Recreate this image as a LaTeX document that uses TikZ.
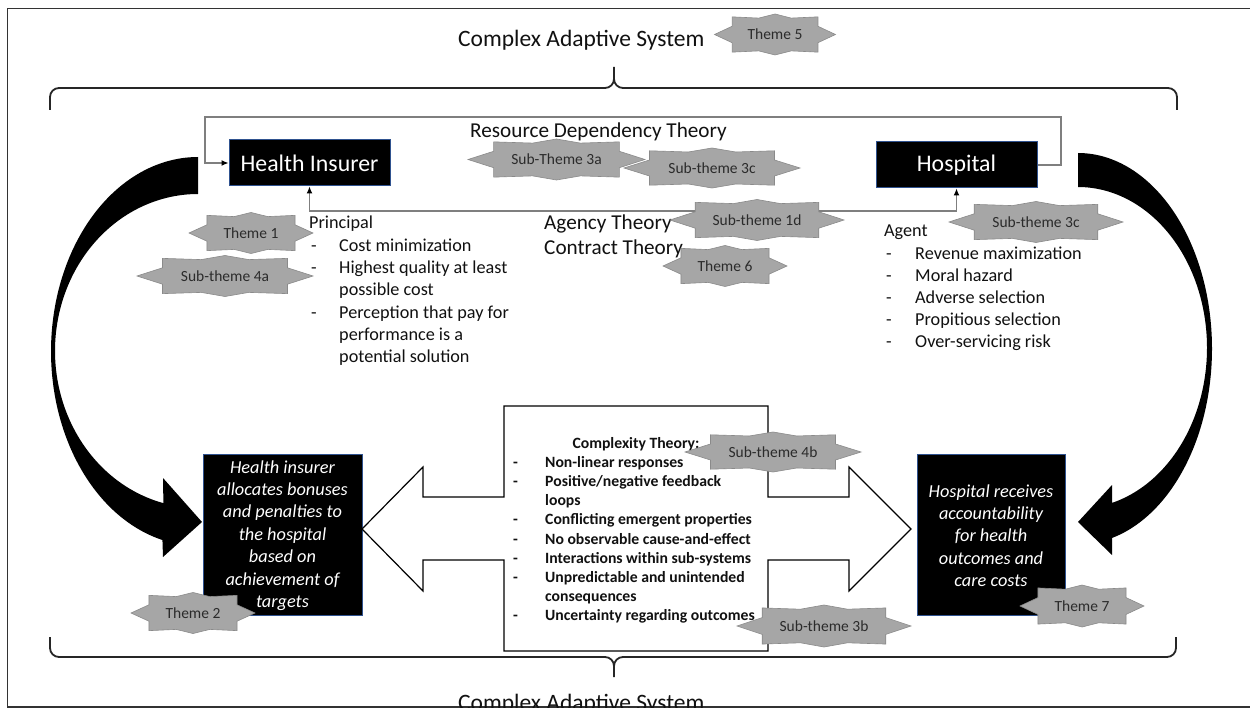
\documentclass[tikz,border=0pt]{standalone}
\usepackage{fontspec}
\setmainfont{Carlito}
\usetikzlibrary{arrows.meta,calc}
\definecolor{starfill}{HTML}{A6A6A6}
\definecolor{starline}{HTML}{8A8A8A}
\definecolor{connc}{HTML}{7F7F7F}
\definecolor{boxline}{HTML}{2F528F}
\definecolor{txtc}{HTML}{111111}
\definecolor{startxtc}{HTML}{2B2B2B}
\tikzset{
  starshape/.style={fill=starfill, draw=starline, line width=0.6pt},
  startxt/.style={font=\fontsize{15.5}{18}\selectfont, text=startxtc, inner sep=0pt},
  titletxt/.style={font=\fontsize{23.5}{28}\selectfont, text=txtc, inner sep=0pt},
  theorytxt/.style={font=\fontsize{21.2}{25.6}\selectfont, text=txtc, inner sep=0pt},
  bodytxt/.style={font=\fontsize{18.2}{22.3}\selectfont, text=txtc, inner sep=0pt},
  boldtxt/.style={font=\fontsize{15.7}{19.2}\selectfont\bfseries, text=txtc, inner sep=0pt},
  boxtxt/.style={font=\fontsize{18.3}{22.4}\selectfont\itshape, text=white, inner sep=0pt},
  headtxt/.style={font=\fontsize{23.8}{28}\selectfont, text=white, inner sep=0pt},
  darkbox/.style={fill=black, draw=boxline, line width=1pt, inner sep=0pt},
  conn/.style={draw=connc, line width=1.2pt},
  tipb/.style={-{Latex[length=7pt,width=6pt,color=black]}},
  tipbb/.style={{Latex[length=7pt,width=6pt,color=black]}-{Latex[length=7pt,width=6pt,color=black]}},
  bracel/.style={draw=black!85, line width=1.8pt},
  framel/.style={draw=black!80, line width=1.3pt},
  callout/.style={draw=black, line width=1.2pt, fill=white, line join=miter},
}
\newcommand\themestar[6]{%
  \begin{scope}[shift={(#2,#3)},xscale=#4,yscale=#5]
    \path[starshape] (1,0) -- (0.71,0.40) -- (0.71,0.86) -- (0.27,0.80) -- (0,1)
      -- (-0.27,0.80) -- (-0.71,0.86) -- (-0.71,0.40) -- (-1,0) -- (-0.71,-0.40)
      -- (-0.71,-0.86) -- (-0.27,-0.80) -- (0,-1) -- (0.27,-0.80) -- (0.71,-0.86)
      -- (0.71,-0.40) -- cycle;
  \end{scope}
  \node[startxt] (#1) at (#2,#3) {#6};
}
\begin{document}
\begin{tikzpicture}[x=1pt,y=-1pt]
\useasboundingbox (0,0) rectangle (1250,708);
\fill[white] (0,0) rectangle (1250,708);

% frame
\draw[framel] (1252,8.5) -- (7.5,8.5) -- (7.5,707) -- (1252,707);

% titles
\node[titletxt, anchor=base west] (cas1) at (458,46.5) {Complex Adaptive System};
\node[titletxt, anchor=base west] (cas2) at (458,710) {Complex Adaptive System};

% braces
\draw[bracel] (50,110) -- (50,97) to[out=90,in=180] (59,88) -- (605,88)
  to[out=0,in=-90] (614,79) -- (614,67)
  (614,79) to[out=-90,in=180] (623,88) -- (1168,88) to[out=0,in=90] (1177,97) -- (1177,110);
\draw[bracel] (50,637) -- (50,648) to[out=-90,in=180] (59,657) -- (605,657)
  to[out=0,in=90] (614,666) -- (614,677)
  (614,666) to[out=90,in=180] (623,657) -- (1167,657) to[out=0,in=-90] (1176,648) -- (1176,637);

% main boxes
\node[darkbox, minimum width=161pt, minimum height=46pt] (hi) at (309.5,163) {};
\node[headtxt] (hitxt) at (309.5,163) {Health Insurer};
\node[darkbox, minimum width=161pt, minimum height=46pt] (hosp) at (956.5,165) {};
\node[headtxt] (hosptxt) at (956.5,165) {Hospital};

% connectors
\coordinate (rdR) at (1061,117);
\coordinate (rdL) at (205,117);
\coordinate (agy) at (0,211);
\draw[conn, tipb] (hosp.east) -| (rdR) -- (rdL) |- (hi.west);
\draw[conn, tipbb] (hi.south) -- (hi.south |- agy) -| (hosp.south);

\node[theorytxt, anchor=base west] (rdt) at (470,137.3) {Resource Dependency Theory};
\node[theorytxt, anchor=base west] (agt) at (544,230) {Agency Theory};
\node[theorytxt, anchor=base west] (ctt) at (544,255) {Contract Theory};

% principal
\node[bodytxt, anchor=base west] (princ) at (309,229) {\begin{tabular}[t]{@{}p{30pt}@{}l@{}}
\multicolumn{2}{@{}l@{}}{Principal}\\
\hspace{2pt}-&Cost minimization\\
\hspace{2pt}-&Highest quality at least\\
&possible cost\\
\hspace{2pt}-&Perception that pay for\\
&performance is a\\
&potential solution
\end{tabular}};

% agent
\node[bodytxt, anchor=base west] (agent) at (884,237) {\fontsize{18.2}{22.2}\selectfont\begin{tabular}[t]{@{}p{31pt}@{}l@{}}
\multicolumn{2}{@{}l@{}}{Agent}\\
\hspace{2pt}-&Revenue maximization\\
\hspace{2pt}-&Moral hazard\\
\hspace{2pt}-&Adverse selection\\
\hspace{2pt}-&Propitious selection\\
\hspace{2pt}-&Over-servicing risk
\end{tabular}};

% big curved arrows
\fill[black] plot[domain=90:256,samples=80,smooth] ({198+147*cos(\x)},{351.4-194.4*sin(\x)})
  -- (163,557) -- (202,522) -- (163,478)
  -- plot[domain=256:90,samples=80,smooth] ({198+143*cos(\x)},{350.9-156.9*sin(\x)}) -- cycle;
\fill[black] plot[domain=90:-75.3,samples=80,smooth] ({1078+134*cos(\x)},{348.7-195.7*sin(\x)})
  -- (1112,555) -- (1078,522) -- (1112,485)
  -- plot[domain=-74.7:90,samples=80,smooth] ({1078+129*cos(\x)},{347.8-160.8*sin(\x)}) -- cycle;

% bottom boxes
\node[darkbox, minimum width=159pt, minimum height=161pt] (lbox) at (282.5,534.5) {};
\node[boxtxt, anchor=base] (lboxtxt) at (282.5,473) {\begin{tabular}[t]{@{}c@{}}Health insurer\\allocates bonuses\\and penalties to\\the hospital\\based on\\achievement of\\targets\end{tabular}};
\node[darkbox, minimum width=148pt, minimum height=161pt] (rbox) at (991,534.5) {};
\node[boxtxt, anchor=base] (rboxtxt) at (991,497) {\begin{tabular}[t]{@{}c@{}}Hospital receives\\accountability\\for health\\outcomes and\\care costs\end{tabular}};

% central double arrow callout
\draw[callout] (504,406) -- (768,406) -- (768,497) -- (849,497) -- (849,467) -- (911,529)
  -- (849,591) -- (849,560) -- (768,560) -- (768,651) -- (504,651) -- (504,560)
  -- (423,560) -- (423,591) -- (362,529) -- (423,467) -- (423,497) -- (504,497) -- cycle;
\node[boldtxt, anchor=base] (ctitle) at (636,448) {Complexity Theory:};
\node[boldtxt, anchor=base west] (clist) at (513,467.2) {\begin{tabular}[t]{@{}p{32pt}@{}l@{}}
-&Non-linear responses\\
-&Positive/negative feedback\\
&loops\\
-&Conflicting emergent properties\\
-&No observable cause-and-effect\\
-&Interactions within sub-systems\\
-&Unpredictable and unintended\\
&consequences\\
-&Uncertainty regarding outcomes
\end{tabular}};

% theme stars
\themestar{theme5}{775}{34.5}{60.5}{20.5}{Theme 5}
\themestar{st3c}{712}{168}{88}{20}{Sub-theme 3c}
\themestar{st3a}{556.5}{159.5}{88.5}{20.5}{Sub-Theme 3a}
\themestar{st1d}{757}{220}{87}{20.5}{Sub-theme 1d}
\themestar{st3cb}{1036}{222}{87}{20.5}{Sub-theme 3c}
\themestar{theme6}{725}{266}{62}{20.5}{Theme 6}
\themestar{theme1}{251}{233}{62}{20.5}{Theme 1}
\themestar{st4a}{225}{276}{88}{20.5}{Sub-theme 4a}
\themestar{theme2}{193}{613}{62}{20.5}{Theme 2}
\themestar{st4b}{773}{452}{88}{20}{Sub-theme 4b}
\themestar{st3b}{824}{626}{87}{21}{Sub-theme 3b}
\themestar{theme7}{1082}{606}{62}{21}{Theme 7}
\end{tikzpicture}
\end{document}
